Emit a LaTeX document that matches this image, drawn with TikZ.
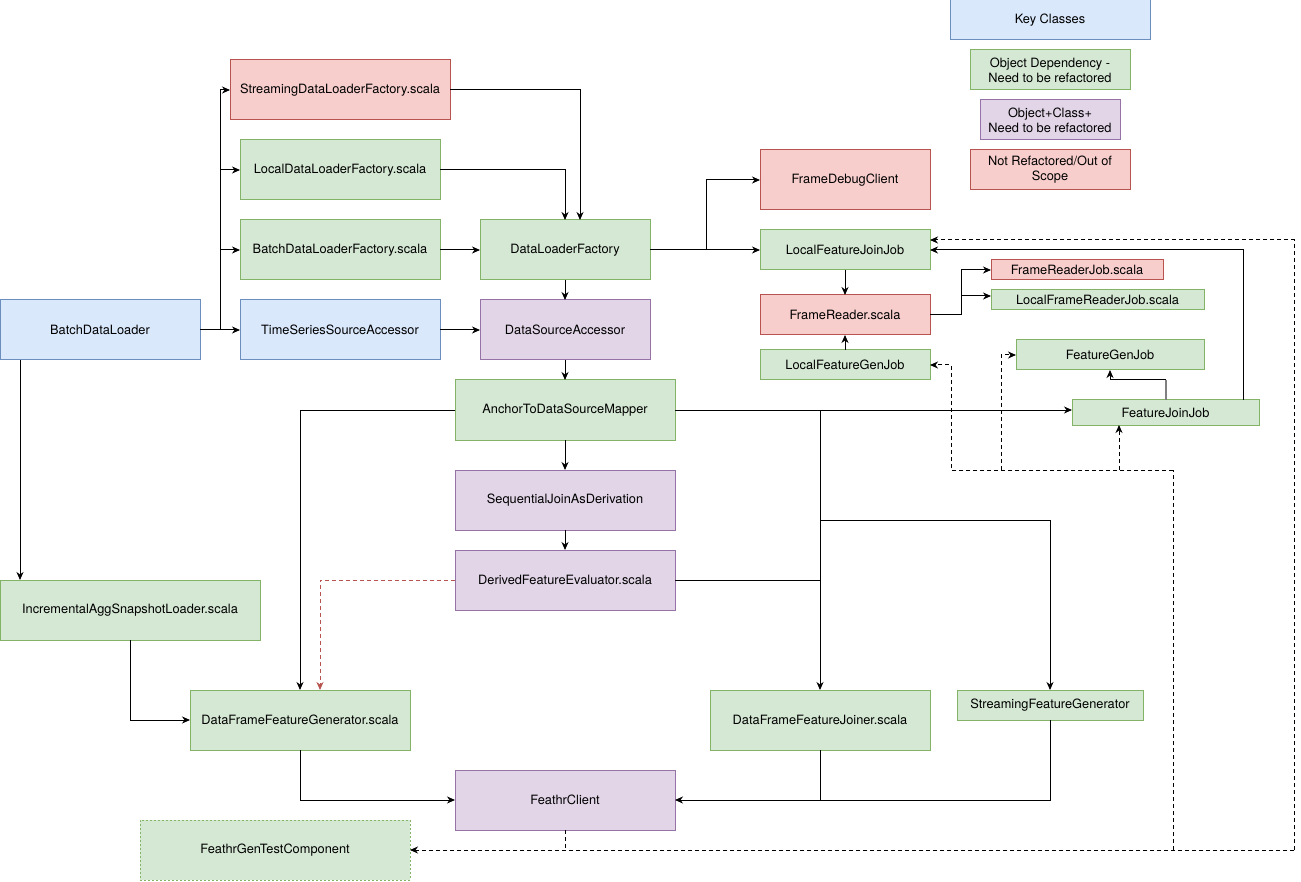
\documentclass[tikz,border=0pt]{standalone}
\usepackage{fontspec}
\setmainfont{TeX Gyre Heros}
\usetikzlibrary{arrows.meta,calc}
\definecolor{bfill}{HTML}{DAE8FC}\definecolor{bdraw}{HTML}{6C8EBF}
\definecolor{gfill}{HTML}{D5E8D4}\definecolor{gdraw}{HTML}{82B366}
\definecolor{pfill}{HTML}{E1D5E7}\definecolor{pdraw}{HTML}{9673A6}
\definecolor{rfill}{HTML}{F8CECC}\definecolor{rdraw}{HTML}{B85450}
\tikzset{
  box/.style={draw, line width=1pt, inner sep=0pt, outer sep=0pt, align=center,
    font=\fontsize{12.8}{15}\selectfont},
  bluebox/.style={box, fill=bfill, draw=bdraw},
  greenbox/.style={box, fill=gfill, draw=gdraw},
  purplebox/.style={box, fill=pfill, draw=pdraw},
  redbox/.style={box, fill=rfill, draw=rdraw},
  sz/.style 2 args={minimum width=#1pt, minimum height=#2pt},
  ln/.style={line width=1pt},
  arr/.style={ln, -{Stealth[length=8pt,width=7pt,inset=2.5pt]}},
  dsh/.style={line width=1pt, dash pattern=on 4pt off 3pt},
  darr/.style={dsh, -{Stealth[length=8pt,width=7pt,inset=2.5pt]}},
}
\begin{document}
\begin{tikzpicture}[x=1pt,y=-1pt]
\fill[white] (0,0) rectangle (1301,882);
\useasboundingbox (0,0) rectangle (1301,882);
% legend
\node[bluebox, sz={200}{40}] (kc) at (1050,20) {Key Classes};
\node[greenbox, sz={160}{40}] (od) at (1050,70) {Object Dependency -\\Need to be refactored};
\node[purplebox, sz={140}{40}] (oc) at (1050,120) {Object+Class+\\Need to be refactored};
\node[redbox, sz={160}{40}] (nr) at (1050,170) {Not Refactored/Out of\\Scope};
% nodes
\node[redbox, sz={220}{60}] (sdl) at (340,90) {StreamingDataLoaderFactory.scala};
\node[greenbox, sz={200}{60}] (ldl) at (340,170) {LocalDataLoaderFactory.scala};
\node[greenbox, sz={200}{60}] (bdlf) at (340,250) {BatchDataLoaderFactory.scala};
\node[bluebox, sz={200}{60}] (tssa) at (340,330) {TimeSeriesSourceAccessor};
\node[bluebox, sz={200}{60}] (bdl) at (100,330) {BatchDataLoader};
\node[greenbox, sz={170}{60}] (dlf) at (565,250) {DataLoaderFactory};
\node[purplebox, sz={170}{60}] (dsa) at (565,330) {DataSourceAccessor};
\node[greenbox, sz={220}{60}] (atd) at (565,410) {AnchorToDataSourceMapper};
\node[purplebox, sz={220}{60}] (sja) at (565,500) {SequentialJoinAsDerivation};
\node[purplebox, sz={220}{60}] (dfe) at (565,580) {DerivedFeatureEvaluator.scala};
\node[greenbox, sz={260}{60}] (iasl) at (130,610) {IncrementalAggSnapshotLoader.scala};
\node[greenbox, sz={220}{60}] (dffg) at (300,720) {DataFrameFeatureGenerator.scala};
\node[purplebox, sz={220}{60}] (fc) at (565,800) {FeathrClient};
\node[greenbox, sz={270}{60}, dash pattern=on 2pt off 2pt] (fgtc) at (275,850) {FeathrGenTestComponent};
\node[greenbox, sz={220}{60}] (dffj) at (820,720) {DataFrameFeatureJoiner.scala};
\node[greenbox, sz={186}{30}] (sfg) at (1050,705) {StreamingFeatureGenerator};
\node[redbox, sz={170}{60}] (fdc) at (845,180) {FrameDebugClient};
\node[greenbox, sz={170}{40}] (lfjj) at (845,250) {LocalFeatureJoinJob};
\node[redbox, sz={170}{40}] (fr) at (845,315) {FrameReader.scala};
\node[greenbox, sz={170}{30}] (lfgj) at (845,365) {LocalFeatureGenJob};
\node[redbox, sz={172}{20}] (frj) at (1077,270) {FrameReaderJob.scala};
\node[greenbox, sz={213}{20}] (lfrj) at (1097.5,300) {LocalFrameReaderJob.scala};
\node[greenbox, sz={188}{30}] (fgj) at (1110,355) {FeatureGenJob};
\node[greenbox, sz={187}{25}] (fjj) at (1165.5,412.5) {FeatureJoinJob};
% junctions
\coordinate (j1) at (220,330);
\coordinate (j2) at (706,250);
\coordinate (j3) at (961,315);
\coordinate (j4) at (atd.east -| dffj.north);
\coordinate (j5) at (820,520);
\coordinate (j6) at (1166,380);
\coordinate (d1) at (1294,850);
\coordinate (d2) at (1173,850);
\coordinate (d3) at (1173,470);
\coordinate (d4) at (951,470);
\coordinate (d5) at (1001,470);
\coordinate (d6) at (1119,470);
% connectors
\draw[arr] (bdl.east) -- (tssa.west);
\draw[arr] (j1) |- (sdl.west);
\draw[arr] (j1) |- (ldl.west);
\draw[arr] (j1) |- (bdlf.west);
\draw[arr] (sdl.east) -| ([xshift=15pt]dlf.north);
\draw[arr] (ldl.east) -| (dlf.north);
\draw[arr] (bdlf.east) -- (dlf.west);
\draw[arr] (tssa.east) -- (dsa.west);
\draw[arr] (dlf.south) -- (dsa.north);
\draw[arr] (dsa.south) -- (atd.north);
\draw[arr] (atd.south) -- (sja.north);
\draw[arr] (sja.south) -- (dfe.north);
\draw[arr] (dlf.east) -- (lfjj.west);
\draw[arr] (j2) |- (fdc.west);
\draw[arr] (lfjj.south) -- (fr.north);
\draw[arr] (lfgj.north) -- (fr.south);
\draw[ln] (fr.east) -- (j3);
\draw[arr] (j3) |- (frj.west);
\draw[arr] (j3) |- ([yshift=4pt]lfrj.west);
\draw[arr] (atd.west) -| (dffg.north);
\draw[dsh, draw=rdraw, -{Stealth[length=8pt,width=7pt,inset=2.5pt]}] (dfe.west) -| ([xshift=20pt]dffg.north);
\draw[arr] (atd.east) -- (atd.east -| fjj.west);
\draw[arr] (j4) -- (dffj.north);
\draw[arr] (j5) -| (sfg.north);
\draw[ln] (dfe.east) -- (dfe.east -| dffj.north);
\draw[arr] (iasl.south) |- (dffg.west);
\draw[arr] ([xshift=-80pt]bdl.south) -- ([xshift=-110pt]iasl.north);
\draw[arr] (dffg.south) |- (fc.west);
\draw[ln] (dffj.south) -- (dffj.south |- fc.east);
\draw[arr] (sfg.south) |- (fc.east);
\draw[line width=1.8pt, draw=gray] (fjj.north -| j6) -- (j6);
\draw[arr] (j6) -| (fgj.south);
\draw[arr] ([xshift=78pt]fjj.north) |- (lfjj.east);
% dashed
\draw[darr] (d1) -- (fgtc.east);
\draw[darr] (d1) |- ([yshift=10pt]lfjj.east);
\draw[dsh] (fc.south) -- (fc.south |- fgtc.east);
\draw[dsh] (d2) -- (d3);
\draw[darr] (d3) -- (d4) |- (lfgj.east);
\draw[darr] (d5) |- (fgj.west);
\draw[darr] (d6) -- (d6 |- fjj.south);
\end{tikzpicture}
\end{document}
